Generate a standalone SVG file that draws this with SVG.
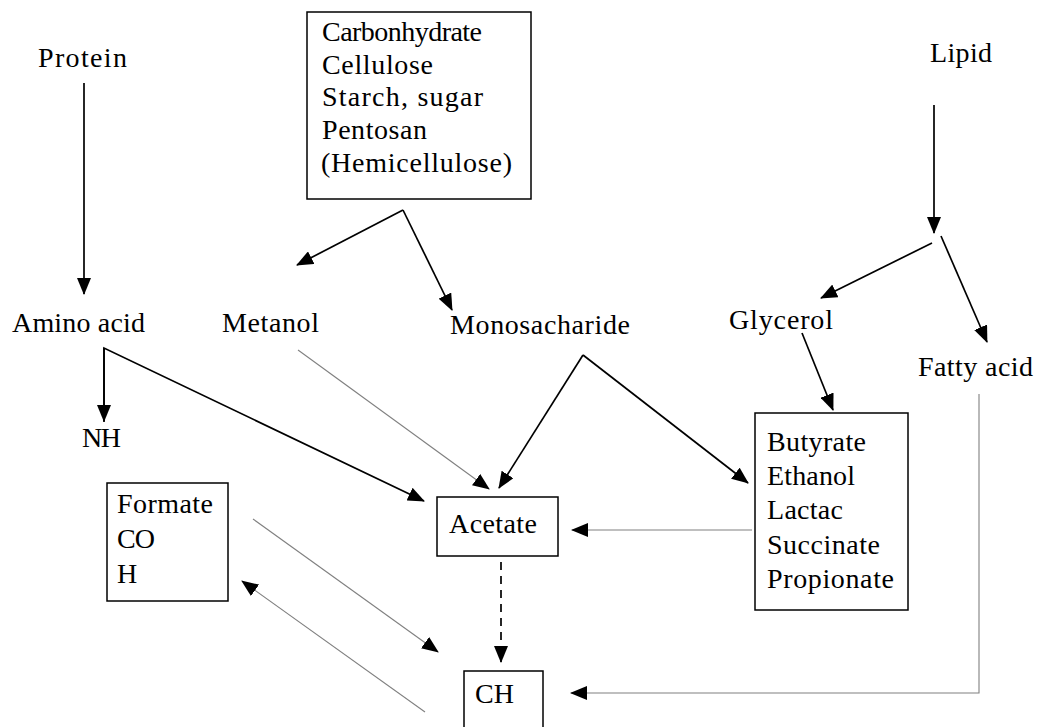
<svg xmlns="http://www.w3.org/2000/svg" width="1038" height="727" viewBox="0 0 1038 727">
<style>
text{font-family:"Liberation Serif","Times New Roman",serif;font-size:28px;fill:#000}
.box{fill:#fff;stroke:#000;stroke-width:1.5}
.k{stroke:#000;stroke-width:1.7;fill:none}
.g{stroke:#808080;stroke-width:1.1;fill:none}
</style>
<defs>
<marker id="ah" markerUnits="userSpaceOnUse" markerWidth="17" markerHeight="14" refX="16" refY="7" orient="auto">
<path d="M0,0 L17,7 L0,14 z" fill="#000"/>
</marker>
</defs>
<rect width="1038" height="727" fill="#fff"/>
<g id="connectors">
<line class="k" x1="84" y1="83" x2="84" y2="294" marker-end="url(#ah)"/>
<polyline class="k" points="104,422 104,348 424,501" marker-end="url(#ah)"/>
<line class="k" x1="104" y1="348" x2="104" y2="421" marker-end="url(#ah)"/>
<line class="k" x1="403" y1="210" x2="297" y2="265" marker-end="url(#ah)"/>
<line class="k" x1="403" y1="210" x2="452" y2="310" marker-end="url(#ah)"/>
<line class="g" x1="298" y1="350" x2="489" y2="489" marker-end="url(#ah)"/>
<line class="k" x1="583" y1="355" x2="499" y2="488" marker-end="url(#ah)"/>
<line class="k" x1="583" y1="355" x2="748" y2="483" marker-end="url(#ah)"/>
<line class="k" x1="934" y1="105" x2="934" y2="233" marker-end="url(#ah)"/>
<line class="k" x1="932" y1="243" x2="821" y2="298" marker-end="url(#ah)"/>
<line class="k" x1="941" y1="236" x2="987" y2="342" marker-end="url(#ah)"/>
<line class="k" x1="802" y1="333" x2="833" y2="410" marker-end="url(#ah)"/>
<polyline class="g" points="979,394 979,693 571,693" marker-end="url(#ah)"/>
<line class="g" x1="752" y1="530" x2="572" y2="530" marker-end="url(#ah)"/>
<line class="k" x1="501" y1="562" x2="501" y2="662" stroke-dasharray="8,6" marker-end="url(#ah)"/>
<line class="g" x1="253" y1="519" x2="438" y2="652" marker-end="url(#ah)"/>
<line class="g" x1="425" y1="712" x2="242" y2="581" marker-end="url(#ah)"/>
</g>
<g id="protein"><text x="38" y="67" textLength="89">Protein</text></g>
<g id="lipid"><text x="930" y="62" textLength="62">Lipid</text></g>
<g id="carbohydrate">
<rect class="box" x="307" y="12" width="224" height="187"/>
<text x="322" y="41" textLength="160">Carbonhydrate</text>
<text x="322" y="74" textLength="111">Cellulose</text>
<text x="322" y="106" textLength="161">Starch, sugar</text>
<text x="322" y="139" textLength="105">Pentosan</text>
<text x="321" y="172" textLength="191">(Hemicellulose)</text>
</g>
<g id="amino"><text x="12" y="332" textLength="133">Amino acid</text></g>
<g id="metanol"><text x="222" y="332" textLength="97">Metanol</text></g>
<g id="monosacharide"><text x="450" y="334" textLength="180">Monosacharide</text></g>
<g id="glycerol"><text x="729" y="329" textLength="104">Glycerol</text></g>
<g id="fatty"><text x="918" y="376" textLength="115">Fatty acid</text></g>
<g id="nh"><text x="82" y="447" textLength="39">NH</text></g>
<g id="formate">
<rect class="box" x="107" y="483" width="121" height="118"/>
<text x="117" y="513" textLength="96">Formate</text>
<text x="117" y="548" textLength="38">CO</text>
<text x="117" y="583" textLength="20">H</text>
</g>
<g id="acetate">
<rect class="box" x="437" y="497" width="121" height="59"/>
<text x="449" y="533" textLength="88">Acetate</text>
</g>
<g id="ch">
<rect class="box" x="464" y="671" width="79" height="70"/>
<text x="475" y="703" textLength="39">CH</text>
</g>
<g id="acids">
<rect class="box" x="755" y="413" width="153" height="197"/>
<text x="767" y="451" textLength="99">Butyrate</text>
<text x="767" y="485" textLength="88">Ethanol</text>
<text x="767" y="519" textLength="76">Lactac</text>
<text x="767" y="554" textLength="113">Succinate</text>
<text x="767" y="588" textLength="127">Propionate</text>
</g>
</svg>
